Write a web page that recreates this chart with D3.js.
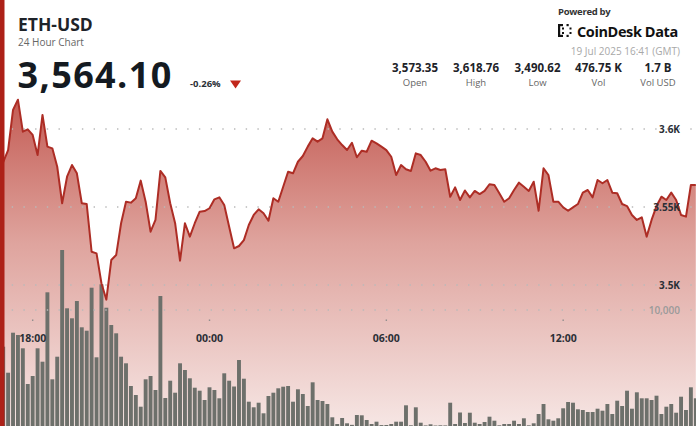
<!DOCTYPE html>
<html><head><meta charset="utf-8">
<script src="https://cdn.jsdelivr.net/npm/d3@7"></script>
<style>
html,body{margin:0;padding:0;background:#fff;}
svg{display:block;font-family:"Open Sans","Noto Sans",sans-serif;}
</style></head>
<body>
<svg id="c" width="696" height="426"></svg>
<script>
// ---- data ----
const symbol = "ETH-USD";
const subtitle = "24 Hour Chart";
const lastPrice = "3,564.10";
const changePct = "-0.26%";
const poweredBy = "Powered by";
const brand = "CoinDesk Data";
const stamp = "19 Jul 2025 16:41 (GMT)";
const statLabels = ["Open", "High", "Low", "Vol", "Vol USD"];
const statValues = ["3,573.35", "3,618.76", "3,490.62", "476.75 K", "1.7 B"];
const startTime = "2025-07-18T17:00:00Z";
const stepMinutes = 10;
const prices = [
3578.8,3586.5,3612.2,3618.8,3598.3,3599.8,3596.2,3583.3,3609.0,3588.7,
3587.6,3575.8,3552.4,3569.4,3576.9,3571.6,3552.4,3551.9,3521.3,3520.3,
3501.1,3490.6,3516.0,3519.2,3539.6,3553.4,3552.8,3555.6,3566.9,3553.4,
3534.2,3541.7,3573.1,3569.0,3552.4,3539.6,3515.6,3539.6,3531.0,3539.6,
3547.0,3547.4,3549.2,3554.9,3556.2,3551.3,3537.4,3523.5,3525.0,3528.8,
3538.5,3544.9,3548.5,3546.0,3541.2,3555.6,3553.4,3563.0,3572.6,3571.6,
3579.0,3582.7,3588.7,3594.0,3591.9,3594.0,3606.2,3598.3,3593.4,3589.7,
3586.5,3591.2,3581.9,3586.1,3585.4,3592.5,3590.8,3588.7,3586.5,3582.2,
3570.5,3576.9,3574.2,3573.1,3584.4,3583.3,3579.0,3573.3,3574.8,3573.7,
3574.2,3556.6,3562.6,3554.5,3560.6,3556.2,3560.3,3558.3,3560.3,3564.6,
3564.1,3558.8,3553.4,3555.6,3560.9,3565.6,3563.0,3560.3,3566.2,3547.6,
3574.8,3570.5,3553.4,3553.4,3549.8,3547.6,3549.8,3551.9,3559.2,3560.9,
3556.2,3567.3,3565.2,3567.3,3559.2,3558.8,3551.9,3550.6,3544.9,3541.7,
3543.4,3531.0,3541.7,3550.6,3556.6,3554.5,3559.2,3554.5,3544.9,3543.8,
3564.1,3564.1];
const volumes = [
6836,4595,8043,7845,6698,3620,4310,6698,5543,11525,
4026,5974,15172,10146,9284,10775,8508,8215,11922,5922,
12215,10197,8706,7991,5974,5405,3448,2672,1664,4026,
4310,3103,11206,2414,3905,2870,5405,4827,4112,3301,
3043,2241,3336,3103,2388,4543,3905,3405,5689,4077,
2095,1612,2008,1095,2586,2870,3250,3388,3448,2095,
3164,2758,1724,3767,2241,2155,1896,750,172,690,
233,100,948,922,517,172,371,80,86,172,
371,371,1784,60,1612,284,50,147,40,60,
50,2008,172,1164,259,1146,284,172,345,802,
457,60,172,172,457,172,664,60,233,1034,
1896,578,457,664,1526,2069,2008,1440,1379,1207,
1207,1491,1319,1896,1034,2181,1724,3043,1491,2905,
2388,2388,2241,2612,1034,1664,1896,1146,2526,1379,
3336,2388];
const priceTicks = [3500, 3550, 3600];
const priceTickLabels = ["3.5K", "3.55K", "3.6K"];
const volTicks = [10000];
const volTickLabels = ["10,000"];
const timeTicks = ["2025-07-18T18:00:00Z","2025-07-19T00:00:00Z","2025-07-19T06:00:00Z","2025-07-19T12:00:00Z"];
const timeTickLabels = ["18:00", "00:00", "06:00", "12:00"];

// ---- build ----
const t0 = new Date(startTime);
const rows = prices.map((p, i) => ({t: new Date(+t0 + i*stepMinutes*60000), p, v: volumes[i]}));
const W = 696, H = 426;
const svg = d3.select("#c");

const x = d3.scaleUtc().domain([rows[0].t, rows[rows.length-1].t]).range([3.2, 695.8]);
const y = d3.scaleLinear().domain([3500, 3600]).range([285, 129]);
const yv = d3.scaleLinear().domain([0, 10000]).range([426, 310]);

const defs = svg.append("defs");
const g = defs.append("linearGradient").attr("id","fillg").attr("gradientUnits","userSpaceOnUse")
  .attr("x1",0).attr("x2",0).attr("y1",95).attr("y2",426);
g.append("stop").attr("offset",0).attr("stop-color","#c35a52");
g.append("stop").attr("offset",0.45).attr("stop-color","#dfa49e");
g.append("stop").attr("offset",1).attr("stop-color","#f6e6e4");

const area = d3.area().x(d => x(d.t)).y0(H).y1(d => y(d.p)).curve(d3.curveLinear);
const line = d3.line().x(d => x(d.t)).y(d => y(d.p)).curve(d3.curveLinear);

svg.append("path").datum(rows).attr("d", area).attr("fill","url(#fillg)");

// volume bars
svg.append("g").selectAll("rect").data(rows).join("rect")
  .attr("x", d => x(d.t) - 1.95).attr("width", 3.9)
  .attr("y", d => yv(d.v)).attr("height", d => yv(0) - yv(d.v))
  .attr("fill", "#6d706b");

// grid
const gridVals = priceTicks.map(v => y(v)).concat(volTicks.map(v => yv(v)));
svg.append("g").selectAll("line").data(gridVals).join("line")
  .attr("x1", 0).attr("x2", W).attr("y1", d => d).attr("y2", d => d)
  .attr("stroke", "#b9b9b9").attr("stroke-width", 1.4).attr("stroke-dasharray", "1.4 10.3");

// line
svg.append("path").datum(rows).attr("d", line).attr("fill","none")
  .attr("stroke","#ad2d25").attr("stroke-width",2).attr("stroke-linejoin","round");

// y labels
svg.append("g").selectAll("text").data(priceTicks).join("text")
  .attr("x", 680).attr("y", d => y(d) + 3.6).attr("text-anchor","end")
  .attr("font-size", 10).attr("font-weight", 700).attr("fill", "#2b2f36")
  .text((d,i) => priceTickLabels[i]);
svg.append("g").selectAll("text").data(volTicks).join("text")
  .attr("x", 680).attr("y", d => yv(d) + 3.6).attr("text-anchor","end")
  .attr("font-size", 10).attr("font-weight", 600).attr("fill", "#9a9a9a")
  .text((d,i) => volTickLabels[i]);

// x axis
const tt = timeTicks.map(s => new Date(s));
svg.append("g").selectAll("rect").data(tt).join("rect")
  .attr("x", d => x(d) - 0.7).attr("y", 319.5).attr("width", 1.4).attr("height", 1.4).attr("fill", "#8a8a8a");
svg.append("g").selectAll("text").data(tt).join("text")
  .attr("x", d => x(d)).attr("y", 342).attr("text-anchor","middle")
  .attr("font-size", 10.5).attr("font-weight", 700).attr("fill", "#2b2f36")
  .text((d,i) => timeTickLabels[i]);

// left red bar
svg.append("rect").attr("x",0).attr("y",0).attr("width",4.5).attr("height",H).attr("fill","#ad2118");

// header left
svg.append("text").attr("x",18).attr("y",30.5).attr("font-size",17.5).attr("font-weight",700).attr("fill","#1e2329").text(symbol);
svg.append("text").attr("x",18).attr("y",46.4).attr("font-size",10).attr("fill","#666").text(subtitle);
svg.append("text").attr("x",17.5).attr("y",88).attr("font-size",36).attr("font-weight",700).attr("fill","#141a21")
  .attr("letter-spacing", 1.4).text(lastPrice);
svg.append("text").attr("x",190).attr("y",87).attr("font-size",9.5).attr("font-weight",700).attr("fill","#2b2f36").text(changePct);
svg.append("path").attr("d", d3.line()([[230,80.5],[241,80.5],[235.5,88.5]]) + "Z").attr("fill","#c1271b");

// header right
svg.append("text").attr("x",558).attr("y",15).attr("font-size",9.5).attr("font-weight",700).attr("fill","#333").attr("letter-spacing",-0.3).text(poweredBy);
const logo = svg.append("g").attr("fill","#111");
[[558,24,2.2,13],[558,24,5,2.2],[558,34.8,5,2.2],[562,27.5,2,2],[562,32,2,2],[566.5,24,2.2,2.2],[566.5,34.8,2.2,2.2],[569.5,27.5,2,2],[569.5,32,2,2]]
  .forEach(r => logo.append("rect").attr("x",r[0]).attr("y",r[1]).attr("width",r[2]).attr("height",r[3]));
svg.append("text").attr("x",577).attr("y",37).attr("font-size",14.5).attr("font-weight",700).attr("fill","#111").attr("letter-spacing",-0.4).text(brand);
svg.append("text").attr("x",680).attr("y",55).attr("text-anchor","end").attr("font-size",10).attr("fill","#a8a8a8").text(stamp);

const statX = [415, 476, 537.5, 598.5, 658];
svg.append("g").selectAll("text").data(statValues).join("text")
  .attr("x",(d,i)=>statX[i]).attr("y",72).attr("text-anchor","middle")
  .attr("font-size",11.5).attr("font-weight",700).attr("fill","#1e2329").text(d=>d);
svg.append("g").selectAll("text").data(statLabels).join("text")
  .attr("x",(d,i)=>statX[i]).attr("y",85.5).attr("text-anchor","middle")
  .attr("font-size",9.5).attr("fill","#666").text(d=>d);
</script>
</body></html>
